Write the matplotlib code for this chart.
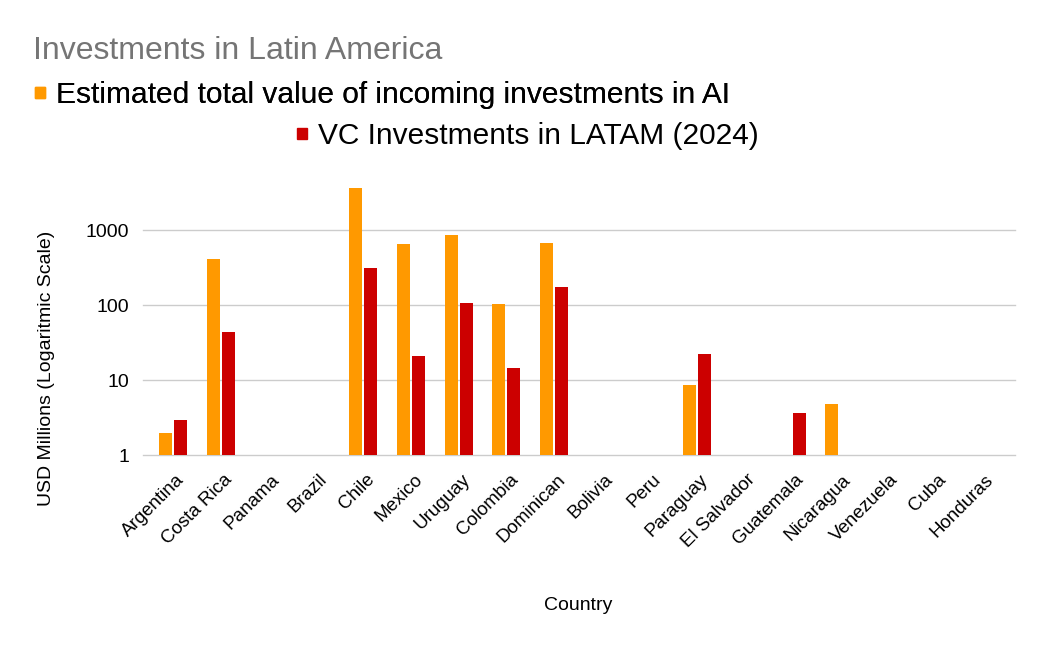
import matplotlib
matplotlib.use("Agg")
import matplotlib.pyplot as plt
import numpy as np
from matplotlib.patches import Patch
import matplotlib.transforms as mtransforms

plt.rcParams['font.family'] = ['Liberation Sans', 'DejaVu Sans']

countries = ["Argentina", "Costa Rica", "Panama", "Brazil", "Chile", "Mexico",
             "Uruguay", "Colombia", "Dominican", "Bolivia", "Peru", "Paraguay",
             "El Salvador", "Guatemala", "Nicaragua", "Venezuela", "Cuba", "Honduras"]
ai_invest = [2, 414, np.nan, np.nan, 3700, 660, 870, 104, 680, np.nan, np.nan, 8.7,
             np.nan, np.nan, 4.9, np.nan, np.nan, np.nan]
vc_invest = [3, 44, np.nan, np.nan, 315, 21, 107, 14.6, 176, np.nan, np.nan, 22.5,
             np.nan, 3.7, np.nan, np.nan, np.nan, np.nan]
yticks = [1, 10, 100, 1000]
ytick_labels = ["1", "10", "100", "1000"]

series1_name = "Estimated total value of incoming investments in AI"
series2_name = "VC Investments in LATAM (2024)"
orange = "#FF9900"
red = "#CC0000"

W, H = 1048, 649
fig = plt.figure(figsize=(W / 100, H / 100), dpi=100)
ax = fig.add_axes([143 / W, (H - 455.3) / H, 872 / W, 300 / H])

x = np.arange(len(countries))
bw = 0.275
off = 0.158
ax.bar(x - off, ai_invest, width=bw, color=orange, zorder=3)
ax.bar(x + off, vc_invest, width=bw, color=red, zorder=3)

ax.set_yscale('log')
ax.set_ylim(1, 10000)
ax.set_xlim(-0.63, 17.69)
ax.set_yticks(yticks)
ax.set_yticklabels(ytick_labels)
ax.minorticks_off()
ax.yaxis.grid(True, color="#CCCCCC", linewidth=1, zorder=0)
for gl in ax.get_ygridlines():
    gl.set_clip_on(False)
for s in ax.spines.values():
    s.set_visible(False)
ax.tick_params(axis='both', length=0, colors="#000000")
ax.tick_params(axis='y', pad=10, labelsize=14)

ax.set_xticks(x)
ax.set_xticklabels(countries, rotation=45, ha='right', rotation_mode='anchor', fontsize=13.5)
offset = mtransforms.ScaledTranslation(3 / 100, -11 / 100, fig.dpi_scale_trans)
for lbl in ax.get_xticklabels():
    lbl.set_transform(lbl.get_transform() + offset)

ax.set_xlabel("Country", fontsize=14)
ax.xaxis.set_label_coords((578 - 143) / 872, -(597 - 455.3) / 300)
ax.set_ylabel("USD Millions (Logaritmic Scale)", fontsize=14)
ax.yaxis.set_label_coords(-(143 - 55) / 872, (455.3 - 368) / 300)

fig.text(33 / W, 1 - 51 / H, "Investments in Latin America", fontsize=23,
         color="#757575", va='center', ha='left')

leg_kw = dict(frameon=False, fontsize=21.5, handlelength=0.34, handleheight=0.2,
              handletextpad=0.36, borderaxespad=0, borderpad=0)
leg1 = fig.legend(handles=[Patch(color=orange, label=series1_name)],
                  loc='center left', bbox_to_anchor=(35 / W, 1 - 95 / H), **leg_kw)
leg2 = fig.legend(handles=[Patch(color=red, label=series2_name)],
                  loc='center left', bbox_to_anchor=(297 / W, 1 - 136 / H), **leg_kw)
fig.add_artist(leg1)

fig.savefig("out.png", dpi=100)
